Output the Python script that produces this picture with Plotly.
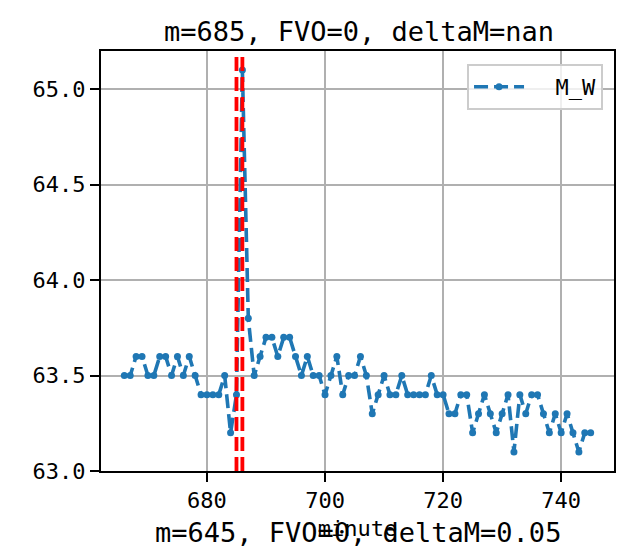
import plotly.graph_objects as go

# Minute-by-minute M_W readings
minutes = list(range(666, 746))
m_w = [
    63.5, 63.5, 63.6, 63.6, 63.5, 63.5, 63.6, 63.6, 63.5, 63.6,
    63.5, 63.6, 63.5, 63.4, 63.4, 63.4, 63.4, 63.5, 63.2, 63.4,
    65.1, 63.8, 63.5, 63.6, 63.7, 63.7, 63.6, 63.7, 63.7, 63.6,
    63.5, 63.6, 63.5, 63.5, 63.4, 63.5, 63.6, 63.4, 63.5, 63.5,
    63.6, 63.5, 63.3, 63.4, 63.5, 63.4, 63.4, 63.5, 63.4, 63.4,
    63.4, 63.4, 63.5, 63.4, 63.4, 63.3, 63.3, 63.4, 63.4, 63.2,
    63.3, 63.4, 63.3, 63.2, 63.3, 63.4, 63.1, 63.4, 63.3, 63.4,
    63.4, 63.3, 63.2, 63.3, 63.2, 63.3, 63.2, 63.1, 63.2, 63.2,
]

# Minutes flagged with vertical markers
flag_minutes = [685, 686]

x_ticks = [680, 700, 720, 740]
y_ticks = [63.0, 63.5, 64.0, 64.5, 65.0]

title_text = "m=685, FVO=0, deltaM=nan"
lower_title_text = "m=645, FVO=0, deltaM=0.05"
x_label = "minute"
series_name = "M_W"

FONT = "DejaVu Sans Mono, Noto Sans CJK SC, sans-serif"
BLUE = "#1f77b4"

fig = go.Figure()
fig.add_trace(go.Scatter(
    x=minutes, y=m_w, mode="lines+markers", name="\u00a0\u00a0" + series_name,
    line=dict(color=BLUE, width=3.6, dash="14px,6px"),
    marker=dict(color=BLUE, size=7),
))

for fm in flag_minutes:
    fig.add_vline(x=fm, line=dict(color="red", width=3.8, dash="14px,6px"))

x_min, x_max = min(minutes), max(minutes)
pad_x = 0.05 * (x_max - x_min)
y_min, y_max = min(m_w), max(m_w)
pad_y = 0.05 * (y_max - y_min)

axis_common = dict(
    showline=True, linecolor="black", linewidth=2, mirror=True,
    ticks="outside", ticklen=9, tickwidth=2, tickcolor="black",
    showgrid=True, gridcolor="#b0b0b0", gridwidth=2,
    zeroline=False,
    tickfont=dict(family=FONT, size=22, color="black"),
)

fig.update_layout(
    width=619, height=551,
    margin=dict(l=101, r=3, t=51, b=80),
    paper_bgcolor="white", plot_bgcolor="white",
    font=dict(family=FONT, color="black"),
    title=dict(text=title_text, x=0.58, xanchor="center", y=0.943, yanchor="middle",
               yref="container", font=dict(family=FONT, size=27, color="black")),
    xaxis=dict(range=[x_min - pad_x, x_max + pad_x], tickvals=x_ticks,
               title=dict(text=x_label, standoff=8,
                          font=dict(family=FONT, size=22, color="black")),
               **axis_common),
    yaxis=dict(range=[y_min - pad_y, y_max + pad_y], tickvals=y_ticks,
               tickformat=".1f", **axis_common),
    showlegend=True,
    legend=dict(
        x=1 - 11 / 515, y=1 - 13 / 420, xanchor="right", yanchor="top",
        bgcolor="rgba(255,255,255,0.8)", bordercolor="#cccccc", borderwidth=2,
        font=dict(family=FONT, size=22, color="black"), itemwidth=50,
    ),
    annotations=[dict(
        text=lower_title_text, xref="paper", yref="paper",
        x=0.5, y=(471 - 532) / 420, xanchor="center", yanchor="middle",
        showarrow=False, font=dict(family=FONT, size=27, color="black"),
    )],
)

fig.write_html("out.html")
